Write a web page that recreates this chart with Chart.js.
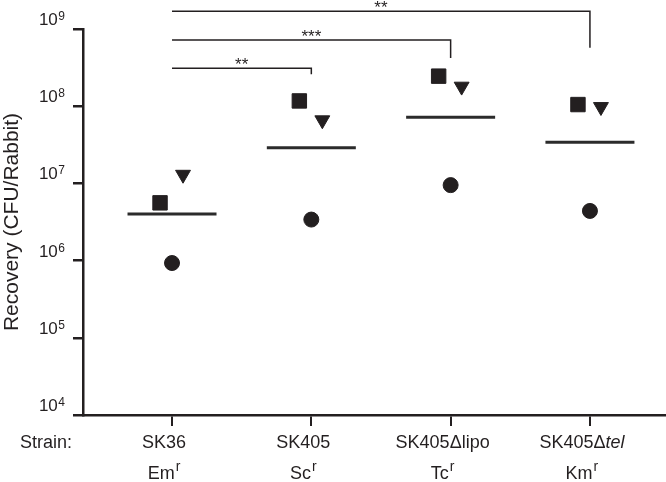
<!DOCTYPE html>
<html>
<head>
<meta charset="utf-8">
<script src="https://cdn.jsdelivr.net/npm/chart.js@4.4.0/dist/chart.umd.min.js"></script>
<style>
  html, body { margin: 0; padding: 0; background: #fff; }
</style>
</head>
<body>
<canvas id="recoveryChart" width="666" height="482"></canvas>
<script>
// strains and resistance markers
const strains = ['SK36', 'SK405', 'SK405\u0394lipo', 'SK405\u0394tel'];
const italicPart = ['', '', '', 'tel'];
const markers = ['Em', 'Sc', 'Tc', 'Km'];

// recovery per rabbit (CFU), one value per strain
const rabbitSquare = [5.6e6, 1.17e8, 2.45e8, 1.05e8];
const rabbitTriangle = [1.3e7, 6.6e7, 1.8e8, 9.8e7];
const rabbitCircle = [9.3e5, 3.4e6, 9.5e6, 4.4e6];
const meanRecovery = [4.0e6, 2.9e7, 7.2e7, 3.4e7];

// y axis decades
const yTicks = [1e4, 1e5, 1e6, 1e7, 1e8, 1e9];

// significance vs SK36
const compareTo = [1, 2, 3];
const stars = ['**', '***', '**'];
const bracketTop = [3.1e8, 7.2e8, 1.7e9];
const bracketEnd = [2.6e8, 4.2e8, 5.7e8];

const ink = '#231f20';
const family = "'Liberation Sans', Arial, Helvetica, sans-serif";
Chart.defaults.font.family = family;
Chart.defaults.color = ink;

const squareOff = -0.086;
const triangleOff = 0.079;

function pts(values, off) {
  return values.map((v, i) => ({ x: i + off, y: v }));
}

const bracketSets = compareTo.map((j, k) => ({
  data: [{ x: 0, y: bracketTop[k] }, { x: j, y: bracketTop[k] }, { x: j, y: bracketEnd[k] }],
  showLine: true,
  borderColor: ink,
  borderWidth: 1.5,
  pointRadius: 0,
  clip: false
}));

// draws tick labels with superscripts, strain names, stars
const labelPlugin = {
  id: 'labelPlugin',
  afterDraw(chart) {
    const ctx = chart.ctx;
    const xs = chart.scales.x;
    const ys = chart.scales.y;
    ctx.save();
    ctx.fillStyle = ink;
    ctx.textBaseline = 'alphabetic';
    ctx.textAlign = 'left';

    // y labels 10^n
    ys.ticks.forEach(t => {
      const y = ys.getPixelForValue(t.value);
      const exp = String(Math.round(Math.log10(t.value)));
      const right = ys.right - 18;
      ctx.font = '12px ' + family;
      const ew = ctx.measureText(exp).width;
      ctx.fillText(exp, right - ew, y - 9);
      ctx.font = '17px ' + family;
      const bw = ctx.measureText('10').width;
      ctx.fillText('10', right - ew - bw - 0.5, y - 4);
    });

    // x labels
    const base1 = xs.top + 33;
    const base2 = xs.top + 64;
    ctx.font = '18px ' + family;
    ctx.fillText('Strain:', 20, base1);

    strains.forEach((s, i) => {
      const cx = xs.getPixelForValue(i) - 8;
      let plain = s, ital = '';
      if (italicPart[i] && s.endsWith(italicPart[i])) {
        plain = s.slice(0, s.length - italicPart[i].length);
        ital = italicPart[i];
      }
      ctx.font = '18px ' + family;
      const pw = ctx.measureText(plain).width;
      ctx.font = 'italic 18px ' + family;
      const iw = ital ? ctx.measureText(ital).width : 0;
      let x0 = cx - (pw + iw) / 2;
      ctx.font = '18px ' + family;
      ctx.fillText(plain, x0, base1);
      if (ital) {
        ctx.font = 'italic 18px ' + family;
        ctx.fillText(ital, x0 + pw, base1);
      }

      ctx.font = '18px ' + family;
      const mw = ctx.measureText(markers[i]).width;
      ctx.font = '14px ' + family;
      const rw = ctx.measureText('r').width;
      const m0 = cx - (mw + rw + 1) / 2;
      ctx.font = '18px ' + family;
      ctx.fillText(markers[i], m0, base2);
      ctx.font = '14px ' + family;
      ctx.fillText('r', m0 + mw + 1, base2 - 8);
    });

    // stars over brackets
    ctx.font = '17px ' + family;
    ctx.textAlign = 'center';
    const m = ctx.measureText('*');
    const shift = (m.actualBoundingBoxDescent - m.actualBoundingBoxAscent) / 2;
    stars.forEach((st, k) => {
      const x = xs.getPixelForValue(compareTo[k] / 2);
      const y = ys.getPixelForValue(bracketTop[k]) - 7.5;
      ctx.fillText(st, x, y - shift);
    });
    ctx.restore();
  }
};

new Chart(document.getElementById('recoveryChart'), {
  type: 'scatter',
  data: {
    datasets: [
      ...bracketSets,
      {
        data: pts(meanRecovery, 0),
        pointStyle: 'line',
        pointRadius: 44.5,
        pointBorderWidth: 3,
        pointBorderColor: '#2b2b2b'
      },
      {
        data: pts(rabbitSquare, squareOff),
        pointStyle: 'rect',
        pointRadius: 10.2,
        pointBackgroundColor: ink,
        pointBorderColor: ink,
        pointBorderWidth: 1
      },
      {
        data: pts(rabbitTriangle, triangleOff),
        pointStyle: 'triangle',
        pointRotation: 180,
        pointRadius: 8.6,
        pointBackgroundColor: ink,
        pointBorderColor: ink,
        pointBorderWidth: 1
      },
      {
        data: pts(rabbitCircle, 0),
        pointStyle: 'circle',
        pointRadius: 7.5,
        pointBackgroundColor: ink,
        pointBorderColor: ink,
        pointBorderWidth: 1
      }
    ]
  },
  options: {
    responsive: false,
    animation: false,
    events: [],
    layout: { autoPadding: false, padding: { top: 29, left: 0, right: 0, bottom: 0 } },
    plugins: {
      legend: { display: false },
      tooltip: { enabled: false }
    },
    scales: {
      x: {
        type: 'linear',
        min: -0.639,
        max: 3.546,
        afterBuildTicks: s => { s.ticks = strains.map((_, i) => ({ value: i })); },
        afterFit: s => { s.height = 67; },
        ticks: { display: false },
        grid: { drawOnChartArea: false, drawTicks: true, tickLength: 11, lineWidth: 2, color: ink },
        border: { display: true, width: 2.5, color: ink }
      },
      y: {
        type: 'logarithmic',
        min: 1e4,
        max: 1e9,
        afterBuildTicks: s => { s.ticks = yTicks.map(v => ({ value: v })); },
        afterFit: s => { s.width = 83; },
        ticks: { display: false },
        grid: { drawOnChartArea: false, drawTicks: true, tickLength: 10, lineWidth: 2.5, color: ink },
        border: { display: true, width: 2.5, color: ink },
        title: { display: true, text: 'Recovery (CFU/Rabbit)', font: { size: 21 }, color: ink, padding: 0 }
      }
    }
  },
  plugins: [labelPlugin]
});
</script>
</body>
</html>
